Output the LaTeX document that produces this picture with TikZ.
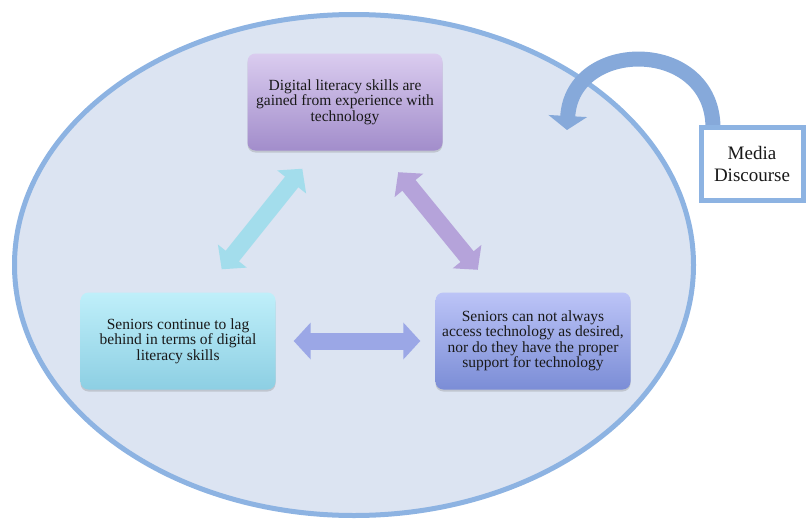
\documentclass[tikz,border=0pt]{standalone}
\usepackage{fontspec}
\setmainfont{Liberation Serif}
\usetikzlibrary{arrows.meta,shadows}

\definecolor{rimblue}{HTML}{8DB3E2}
\definecolor{ovalfill}{HTML}{DCE4F2}
\definecolor{gainA}{HTML}{DACCEF}
\definecolor{gainB}{HTML}{A28DCB}
\definecolor{lagA}{HTML}{BFEFFA}
\definecolor{lagB}{HTML}{8DCFE3}
\definecolor{accessA}{HTML}{BCC4F7}
\definecolor{accessB}{HTML}{7B8DD6}
\definecolor{lagarrow}{HTML}{A3DDEC}
\definecolor{gainarrow}{HTML}{B5A3DA}
\definecolor{sidearrow}{HTML}{9BA7E6}
\definecolor{mediaarrow}{HTML}{86A9DA}

\begin{document}
\begin{tikzpicture}[x=1pt,y=-1pt,
    box/.style={rounded corners=8pt,minimum width=195pt,minimum height=97pt,
        align=center,text=black!90,font=\fontsize{15.5}{15.5}\selectfont,
        drop shadow={opacity=0.3,shadow xshift=0pt,shadow yshift=-2pt}},
    fat/.style={line width=17pt,
        arrows={Triangle[width=36pt,length=17pt]-Triangle[width=36pt,length=17pt]}}]
    \useasboundingbox (0,0) rectangle (808,522);
    %the big oval
    \draw[rimblue,line width=5pt,fill=ovalfill](354,265) ellipse[x radius=339.5,y radius=250.5];
    %three boxes
    \node[box,top color=gainA,bottom color=gainB](gain) at (345,102)
        {Digital literacy skills are\\gained from experience with\\technology};
    \node[box,top color=lagA,bottom color=lagB](lag) at (178,341)
        {Seniors continue to lag\\behind in terms of digital\\literacy skills};
    \node[box,top color=accessA,bottom color=accessB](access) at (533,341)
        {Seniors can not always\\access technology as desired,\\nor do they have the proper\\support for technology};
    %double arrows between boxes
    \draw[fat,color=lagarrow]([shift={(-54,-23)}]lag.north east)--([shift={(55,18)}]gain.south west);
    \draw[fat,color=gainarrow]([shift={(-44.5,21.5)}]gain.south east)--([shift={(42.5,-22.5)}]access.north west);
    \draw[fat,color=sidearrow]([xshift=18pt]lag.east)--([xshift=-15pt]access.west);
    %curved arrow from media box
    \coordinate (drop) at (567,130);
    \draw[mediaarrow,line width=15pt,-{Triangle[width=38pt,length=14pt]}]
        (713,128) .. controls (713,38) and (572,38) .. (drop);
    \node[draw=rimblue,line width=5pt,fill=white,minimum width=102pt,minimum height=73pt,
        align=center,text=black!90,font=\fontsize{19}{22}\selectfont](media) at (752,164) {Media\\Discourse};
\end{tikzpicture}
\end{document}
